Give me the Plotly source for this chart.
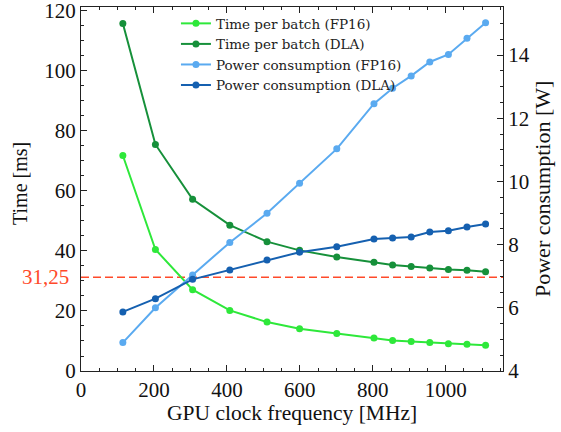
import plotly.graph_objects as go

freq = [114.75, 204, 306, 408, 510, 599.25, 701.25, 803.25, 854.25, 905.25, 956.25, 1007.25, 1058.25, 1109.25]
time_fp16 = [71.8, 40.5, 27.1, 20.2, 16.3, 14.1, 12.5, 11.0, 10.2, 9.8, 9.5, 9.1, 8.9, 8.6]
time_dla = [115.8, 75.5, 57.2, 48.6, 43.1, 40.2, 38.0, 36.2, 35.3, 34.8, 34.3, 33.8, 33.6, 33.1]
power_fp16 = [4.9, 6.0, 7.04, 8.07, 8.99, 9.94, 11.03, 12.46, 12.95, 13.34, 13.78, 14.02, 14.53, 15.02]
power_dla = [5.87, 6.29, 6.9, 7.2, 7.51, 7.76, 7.93, 8.18, 8.21, 8.24, 8.40, 8.44, 8.56, 8.65]
threshold = 31.25
threshold_label = "31,25"

FONT = "Liberation Serif"
LEGFONT = "DejaVu Serif"
c_lg, c_dg, c_lb, c_db = "#2ee83a", "#16903a", "#5aaaf0", "#1560b0"
red = "#ff4a2a"

fig = go.Figure()
def add(y, name, color, axis):
    fig.add_trace(go.Scatter(x=freq, y=y, name=name, mode="lines+markers",
                             line=dict(color=color, width=2),
                             marker=dict(color=color, size=7),
                             yaxis=axis))
add(time_fp16, "Time per batch (FP16)", c_lg, "y")
add(time_dla, "Time per batch (DLA)", c_dg, "y")
add(power_fp16, "Power consumption (FP16)", c_lb, "y2")
add(power_dla, "Power consumption (DLA)", c_db, "y2")

fig.add_shape(type="line", xref="paper", x0=0, x1=1, yref="y", y0=threshold, y1=threshold,
              line=dict(color=red, width=1.5, dash="8px,4px"), layer="below")

axcommon = dict(showline=True, linecolor="#222", linewidth=1.3, ticks="inside",
                tickcolor="#222", ticklen=6, tickwidth=1.2, showgrid=False, zeroline=False,
                automargin=False, ticklabeloverflow="allow",
                tickfont=dict(family=FONT, size=21, color="#111"))
fig.update_layout(
    width=561, height=432,
    margin=dict(l=81, r=58, t=7, b=61),
    plot_bgcolor="white", paper_bgcolor="white",
    font=dict(family=FONT, color="#111"),
    xaxis=dict(range=[0, 1157], dtick=200, tick0=0, mirror="ticks",
               minor=dict(ticks="inside", dtick=50, ticklen=3, tickcolor="#222"), **axcommon),
    yaxis=dict(range=[0, 121.3], dtick=20, tick0=0,
               minor=dict(ticks="inside", dtick=5, ticklen=3, tickcolor="#222"), **axcommon),
    yaxis2=dict(range=[4, 15.52], dtick=2, tick0=4, overlaying="y", side="right",
                minor=dict(ticks="inside", dtick=0.5, ticklen=3, tickcolor="#222"), **axcommon),
    legend=dict(x=0.225, y=0.997, xanchor="left", yanchor="top", bgcolor="rgba(255,255,255,0)",
                font=dict(family=LEGFONT, size=13.5, color="#222"), tracegroupgap=0, itemwidth=30),
    showlegend=True,
)
fig.add_annotation(text="Time [ms]", xref="paper", yref="paper", x=0, y=0.5, xshift=-61, yshift=5,
                   xanchor="center", yanchor="middle",
                   textangle=-90, showarrow=False, font=dict(family=FONT, size=20, color="#111"))
fig.add_annotation(text="Power consumption [W]", xref="paper", yref="paper", x=1, y=0.5, xshift=39,
                   xanchor="center", yanchor="middle",
                   textangle=-90, showarrow=False, font=dict(family=FONT, size=22, color="#111"))
fig.add_annotation(text="GPU clock frequency [MHz]", xref="paper", yref="paper", x=0.5, y=0, yshift=-42,
                   xanchor="center", yanchor="middle",
                   showarrow=False, font=dict(family=FONT, size=21.5, color="#111"))
fig.add_annotation(text=threshold_label, xref="paper", yref="y", x=0, y=threshold, xanchor="right",
                   yanchor="middle",
                   xshift=-10, showarrow=False, font=dict(family=FONT, size=21, color=red))
fig.write_html("out.html", config={"displayModeBar": False},
               post_script="document.body.style.margin='0px';document.body.style.overflow='hidden';")
